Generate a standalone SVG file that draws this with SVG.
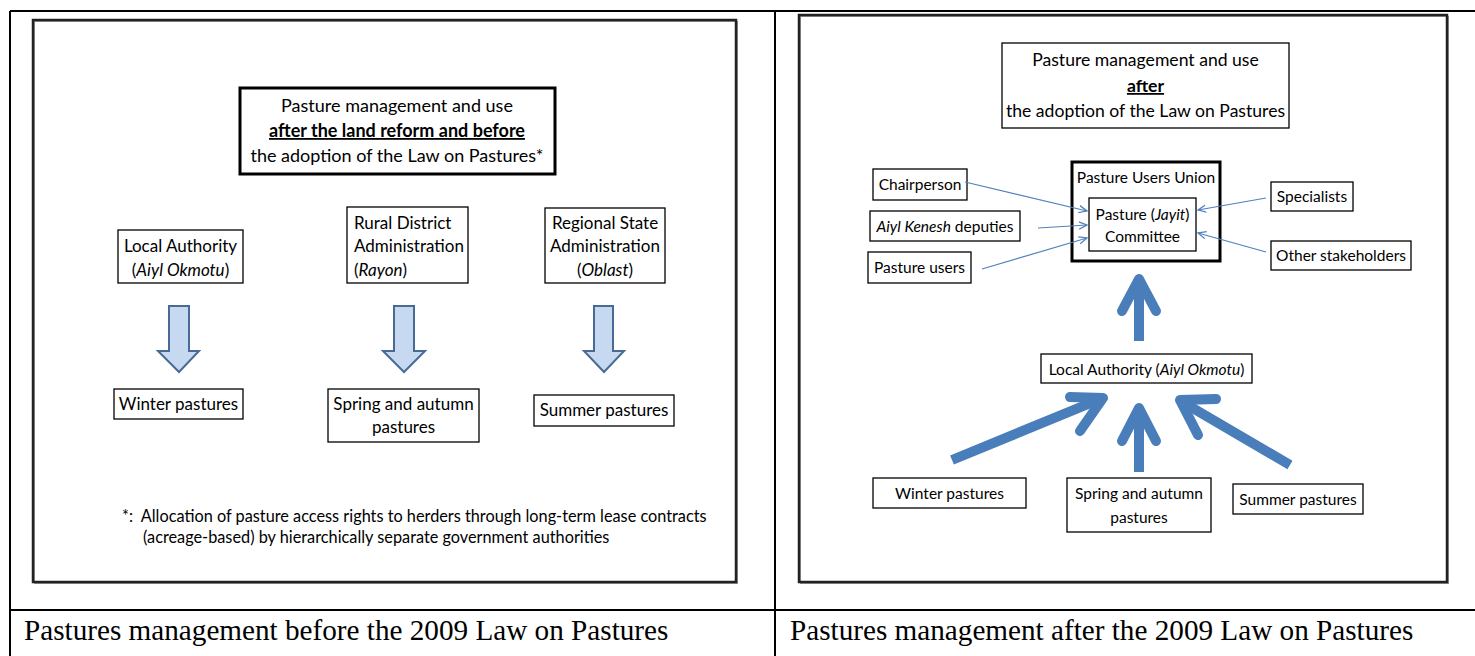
<svg xmlns="http://www.w3.org/2000/svg" width="1475" height="656" viewBox="0 0 1475 656">
<style>
.t{font-family:Lato,"Noto Sans",sans-serif;fill:#000;}
.l{font-size:17px;}
.r{font-size:15.5px;}
.rt{font-size:17.6px;}
.fn{font-size:16.3px;}
.cap{font-family:"Liberation Serif","Times New Roman",serif;font-size:29.2px;fill:#000;}
.box{fill:#fff;stroke:#000;stroke-width:1.3;}
.tbox{fill:#fff;stroke:#000;stroke-width:3;}
.frame{fill:none;stroke:#222;stroke-width:2.5;}
.frame2{fill:none;stroke:#999;stroke-width:1;}
.blk{fill:#c6d9f1;stroke:#4a6a96;stroke-width:2;stroke-linejoin:miter;}
.thin{stroke:#4f81bd;stroke-width:1.2;fill:none;}
.big{stroke:#4a7ebb;stroke-width:10;fill:none;stroke-linecap:round;stroke-linejoin:round;}
.bigs{stroke:#4a7ebb;stroke-width:10;fill:none;stroke-linecap:butt;}
.b{font-weight:bold;text-decoration:underline;}
.i{font-style:italic;}
</style>
<defs>
<marker id="ah" viewBox="0 0 10 10" refX="9" refY="5" markerWidth="9" markerHeight="9" markerUnits="userSpaceOnUse" orient="auto">
<path d="M0,1 L9,5 L0,9" fill="none" stroke="#4f81bd" stroke-width="1.4"/>
</marker>
</defs>
<rect width="1475" height="656" fill="#fff"/>
<g id="table">
<line x1="10" y1="11" x2="1475" y2="11" stroke="#000" stroke-width="2"/>
<line x1="10" y1="11" x2="10" y2="656" stroke="#000" stroke-width="2"/>
<line x1="775" y1="11" x2="775" y2="656" stroke="#000" stroke-width="2"/>
<line x1="10" y1="610" x2="1475" y2="610" stroke="#000" stroke-width="2"/>
<text class="cap" x="24" y="640">Pastures management before the 2009 Law on Pastures</text>
<text class="cap" x="790" y="640">Pastures management after the 2009 Law on Pastures</text>
</g>
<g id="left-frame">
<rect class="frame2" x="34.5" y="21.5" width="703" height="562"/>
<rect class="frame" x="33" y="20" width="703" height="562"/>
</g>
<g id="left-title">
<rect class="tbox" x="240" y="88" width="315" height="86"/>
<text class="t" x="397" y="112" text-anchor="middle" font-size="18">Pasture management and use</text>
<text class="t b" x="397" y="137" text-anchor="middle" font-size="18">after the land reform and before</text>
<text class="t" x="397" y="162" text-anchor="middle" font-size="18">the adoption of the Law on Pastures*</text>
</g>
<g id="local-authority-l">
<rect class="box" x="118" y="230" width="125" height="53"/>
<text class="t l" x="180.5" y="252" text-anchor="middle">Local Authority</text>
<text class="t l" x="180.5" y="276" text-anchor="middle">(<tspan class="i">Aiyl Okmotu</tspan>)</text>
</g>
<g id="rural-district">
<rect class="box" x="347" y="207" width="121" height="76"/>
<text class="t l" x="354" y="229">Rural District</text>
<text class="t l" x="354" y="252">Administration</text>
<text class="t l" x="354" y="276">(<tspan class="i">Rayon</tspan>)</text>
</g>
<g id="regional-state">
<rect class="box" x="545" y="208" width="120" height="75"/>
<text class="t l" x="605" y="229" text-anchor="middle">Regional State</text>
<text class="t l" x="605" y="252" text-anchor="middle">Administration</text>
<text class="t l" x="605" y="276" text-anchor="middle">(<tspan class="i">Oblast</tspan>)</text>
</g>
<g id="left-arrows">
<path class="blk" d="M169,306 H189 V351 H199 L179,372 L158,351 H169 Z"/>
<path class="blk" d="M394,306 H414 V351 H425 L404,372 L383,351 H394 Z"/>
<path class="blk" d="M594,306 H613 V351 H624 L604,372 L584,351 H594 Z"/>
</g>
<g id="winter-l">
<rect class="box" x="114" y="389" width="129" height="30"/>
<text class="t l" x="178.5" y="410" text-anchor="middle">Winter pastures</text>
</g>
<g id="spring-l">
<rect class="box" x="328" y="389" width="151" height="53"/>
<text class="t l" x="403.5" y="410" text-anchor="middle">Spring and autumn</text>
<text class="t l" x="403.5" y="433" text-anchor="middle">pastures</text>
</g>
<g id="summer-l">
<rect class="box" x="534" y="395" width="140" height="31"/>
<text class="t l" x="604" y="416" text-anchor="middle">Summer pastures</text>
</g>
<g id="footnote">
<text class="t fn" x="122" y="522" xml:space="preserve">*:  Allocation of pasture access rights to herders through long-term lease contracts</text>
<text class="t fn" x="143" y="543">(acreage-based) by hierarchically separate government authorities</text>
</g>
<g id="right-frame">
<rect class="frame2" x="800.5" y="16.5" width="648" height="567"/>
<rect class="frame" x="799" y="15" width="648" height="567"/>
</g>
<g id="right-title">
<rect class="box" x="1002" y="43" width="287" height="85"/>
<text class="t rt" x="1145.5" y="66" text-anchor="middle">Pasture management and use</text>
<text class="t rt b" x="1145.5" y="92" text-anchor="middle">after</text>
<text class="t rt" x="1145.5" y="117" text-anchor="middle">the adoption of the Law on Pastures</text>
</g>
<g id="union">
<rect class="tbox" x="1072" y="162" width="148" height="99" stroke-width="2.5"/>
<text class="t r" x="1146" y="183" text-anchor="middle">Pasture Users Union</text>
</g>
<g id="committee">
<rect class="box" x="1089" y="198" width="107" height="53"/>
<text class="t r" x="1142.5" y="220" text-anchor="middle">Pasture (<tspan class="i">Jayit</tspan>)</text>
<text class="t r" x="1142.5" y="242" text-anchor="middle">Committee</text>
</g>
<g id="chairperson">
<rect class="box" x="873" y="169" width="94" height="31"/>
<text class="t r" x="920" y="190" text-anchor="middle">Chairperson</text>
</g>
<g id="aiyl-kenesh">
<rect class="box" x="870" y="211" width="150" height="30"/>
<text class="t r" x="945" y="232" text-anchor="middle"><tspan class="i">Aiyl Kenesh</tspan> deputies</text>
</g>
<g id="pasture-users">
<rect class="box" x="868" y="252" width="103" height="31"/>
<text class="t r" x="919.5" y="273" text-anchor="middle">Pasture users</text>
</g>
<g id="specialists">
<rect class="box" x="1271" y="182" width="82" height="29"/>
<text class="t r" x="1312" y="202" text-anchor="middle">Specialists</text>
</g>
<g id="other-stakeholders">
<rect class="box" x="1271" y="241" width="140" height="29"/>
<text class="t r" x="1341" y="261" text-anchor="middle">Other stakeholders</text>
</g>
<g id="local-authority-r">
<rect class="box" x="1041" y="354" width="211" height="29"/>
<text class="t r" x="1146.5" y="375" text-anchor="middle">Local Authority (<tspan class="i">Aiyl Okmotu</tspan>)</text>
</g>
<g id="winter-r">
<rect class="box" x="873" y="478" width="153" height="30"/>
<text class="t r" x="949.5" y="499" text-anchor="middle">Winter pastures</text>
</g>
<g id="spring-r">
<rect class="box" x="1067" y="478" width="144" height="54"/>
<text class="t r" x="1139" y="499" text-anchor="middle">Spring and autumn</text>
<text class="t r" x="1139" y="523" text-anchor="middle">pastures</text>
</g>
<g id="summer-r">
<rect class="box" x="1233" y="484" width="130" height="30"/>
<text class="t r" x="1298" y="505" text-anchor="middle">Summer pastures</text>
</g>
<g id="connectors">
<line class="thin" x1="965" y1="182" x2="1087" y2="211" marker-end="url(#ah)"/>
<line class="thin" x1="1038" y1="228" x2="1087" y2="225" marker-end="url(#ah)"/>
<line class="thin" x1="982" y1="269" x2="1087" y2="238" marker-end="url(#ah)"/>
<line class="thin" x1="1266" y1="198" x2="1198" y2="210" marker-end="url(#ah)"/>
<line class="thin" x1="1266" y1="252" x2="1198" y2="233" marker-end="url(#ah)"/>
<line class="bigs" x1="1139" y1="341" x2="1139" y2="282"/>
<path class="big" d="M1122,311 L1139,279 L1156,311"/>
<line class="bigs" x1="1139" y1="472" x2="1139" y2="410"/>
<path class="big" d="M1122,441 L1139,408 L1156,441"/>
<line class="bigs" x1="952" y1="460" x2="1098" y2="400"/>
<path class="big" d="M1070,397 L1103,398 L1080,431"/>
<line class="bigs" x1="1290" y1="465" x2="1184" y2="403"/>
<path class="big" d="M1216,399 L1180,400 L1198,435"/>
</g>
</svg>
